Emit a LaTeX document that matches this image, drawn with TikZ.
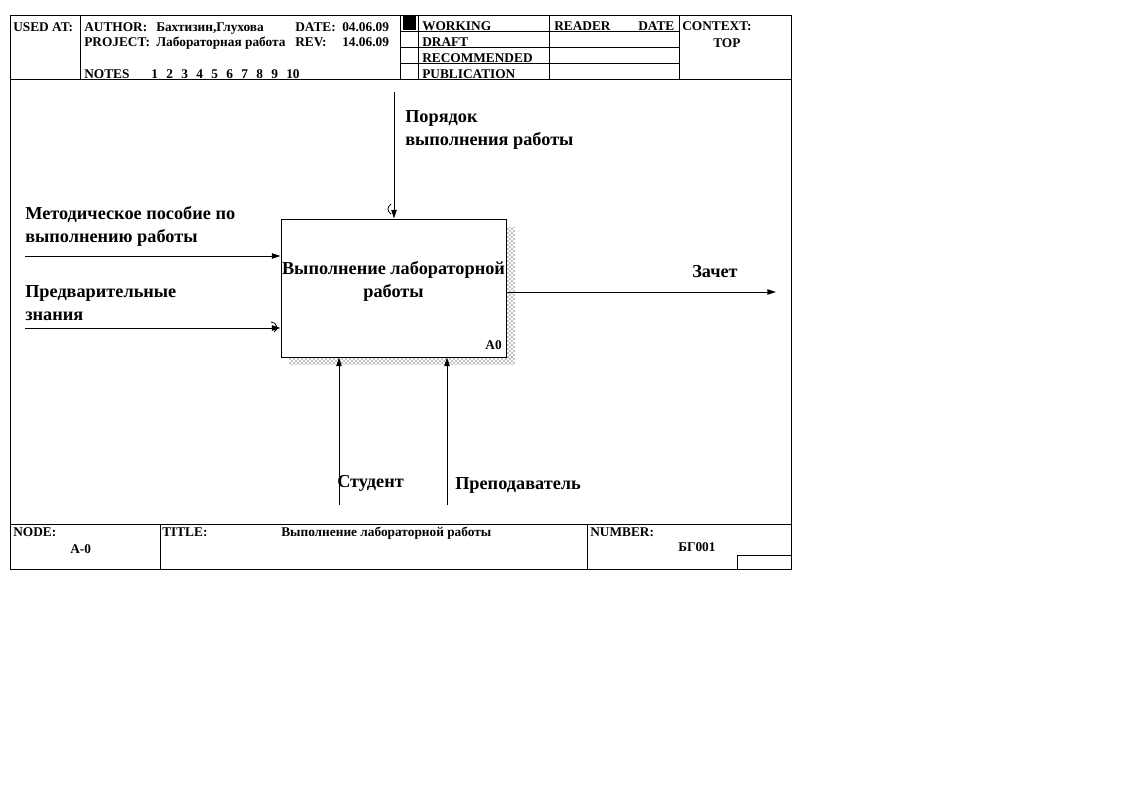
\documentclass[tikz,border=0pt]{standalone}
\usepackage{fontspec}
\setmainfont{Liberation Serif}
\usetikzlibrary{arrows.meta, patterns}

\begin{document}
\begin{tikzpicture}[x=0.75pt, y=-0.75pt,
  frame/.style={line width=0.75pt},
  hdr/.style={anchor=base west, inner sep=0pt, font=\fontsize{10}{12}\selectfont\bfseries},
  lbl/.style={anchor=base west, inner sep=0pt, align=left, font=\fontsize{13.7}{17}\selectfont\bfseries},
  arr/.style={line width=0.75pt, -{Triangle[length=6.5pt, width=4pt]}},
  tun/.style={line width=0.6pt}]
  \useasboundingbox (0,0) rectangle (1122,793);
  % ---------- frame ----------
  \draw[frame] (10,15) rectangle (791,569);
  \draw[frame] (10,79) -- (791,79);
  \draw[frame] (10,524) -- (791,524);
  % ---------- header ----------
  \draw[frame] (80,15) -- (80,79);
  \draw[frame] (400,15) -- (400,79);
  \draw[frame] (418,15) -- (418,79);
  \draw[frame] (549,15) -- (549,79);
  \draw[frame] (679,15) -- (679,79);
  \foreach \y in {31,47,63}
    \draw[frame] (400,\y) -- (679,\y);
  \fill (403,16) rectangle (416,30);
  \node[hdr] (usedat) at (13,31) {USED AT:};
  \node[hdr] (author) at (84,31) {AUTHOR:};
  \node[hdr] (authname) at (156,31) {Бахтизин,Глухова};
  \node[hdr] (date) at (295,31) {DATE:};
  \node[hdr] (dateval) at (342,31) {04.06.09};
  \node[hdr] (project) at (84,46) {PROJECT:};
  \node[hdr] (projname) at (156,46) {Лабораторная работа};
  \node[hdr] (rev) at (295,46) {REV:};
  \node[hdr] (revval) at (342,46) {14.06.09};
  \node[hdr] (notes) at (84,78) {NOTES};
  \foreach \n [count=\i] in {1,...,10}
    \node[hdr] (note\n) at (151+15*\i-15,78) {\n};
  \node[hdr] (working) at (422,30) {WORKING};
  \node[hdr] (draft) at (422,46) {DRAFT};
  \node[hdr] (recomm) at (422,62) {RECOMMENDED};
  \node[hdr] (public) at (422,78) {PUBLICATION};
  \node[hdr] (reader) at (554,30) {READER};
  \node[hdr] (rdate) at (638,30) {DATE};
  \node[hdr] (context) at (682,30) {CONTEXT:};
  \node[hdr] (top) at (713,47) {TOP};
  % ---------- footer ----------
  \draw[frame] (160,524) -- (160,569);
  \draw[frame] (587,524) -- (587,569);
  \draw[frame] (737,569) -- (737,555) -- (791,555);
  \node[hdr] (node) at (13,536) {NODE:};
  \node[hdr] (nodeval) at (70,553) {A-0};
  \node[hdr] (title) at (162,536) {TITLE:};
  \node[hdr] (titleval) at (281,536) {Выполнение лабораторной работы};
  \node[hdr] (number) at (590,536) {NUMBER:};
  \node[hdr] (numberval) at (678,551) {БГ001};
  % ---------- activity A0 ----------
  \fill[pattern=crosshatch dots, pattern color=black] (289,357) rectangle (515,364);
  \fill[pattern=crosshatch dots, pattern color=black] (506,227) rectangle (515,357);
  \node[draw, line width=0.75pt, fill=white, minimum width=168.75pt, minimum height=103.5pt, inner sep=0pt] (a0) at (393.5,288) {};
  \node[lbl, anchor=base, align=center] (a0text) at (393.5,297) {Выполнение лабораторной\\работы};
  \node[hdr, anchor=base east] (a0num) at (502,349) {A0};
  % ---------- arrows ----------
  \coordinate (met) at (25,256);
  \coordinate (pre) at (25,328);
  \coordinate (por) at (394,92);
  \coordinate (zach) at (776,292);
  \coordinate (stud) at (339,505);
  \coordinate (prep) at (447,505);
  \draw[arr] (met) -- (met -| a0.west);
  \draw[arr] (pre) -- (pre -| a0.west);
  \draw[arr] (por) -- (por |- a0.north);
  \draw[arr] (zach -| a0.east) -- (zach);
  \draw[arr] (stud) -- (stud |- a0.south);
  \draw[arr] (prep) -- (prep |- a0.south);
  \draw[tun] (391,204) .. controls (387,207) and (387,211) .. (391,214);
  \draw[tun] (271,322) .. controls (277,322) and (279,330) .. (274,332);
  \node[lbl] (lblmet) at (25,242) {Методическое пособие по\\выполнению работы};
  \node[lbl] (lblpre) at (25,320) {Предварительные\\знания};
  \node[lbl] (lblpor) at (405,145) {Порядок\\выполнения работы};
  \node[lbl] (lblzach) at (692,277) {Зачет};
  \node[lbl] (lblstud) at (337,487) {Студент};
  \node[lbl] (lblprep) at (455,489) {Преподаватель};
\end{tikzpicture}
\end{document}
